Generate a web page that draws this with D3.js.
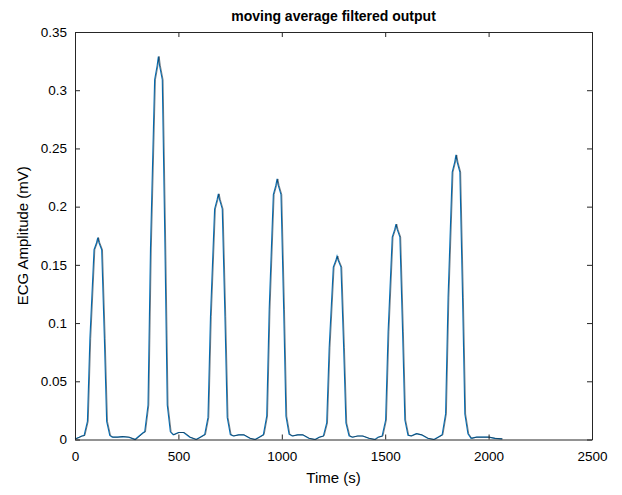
<!DOCTYPE html>
<html>
<head>
<meta charset="utf-8">
<script src="https://cdn.jsdelivr.net/npm/d3@7"></script>
<style>
  body { margin: 0; background: #fff; }
  text { font-family: "Liberation Sans", Arial, sans-serif; fill: #000; }
</style>
</head>
<body>
<div id="chart"></div>
<script>
const WIDTH = 622;
const HEIGHT = 495;
const MARGIN = { top: 32, right: 30, bottom: 55.5, left: 75 };

const X_TICKS = [0, 500, 1000, 1500, 2000, 2500];
const Y_TICKS = [0, 0.05, 0.1, 0.15, 0.2, 0.25, 0.3, 0.35];

// sample time and moving average output
const sampleTime = [
    0, 20, 32,
    44, 60, 72, 92, 104, 110, 116, 129, 142, 153, 168,
    180, 205, 230, 260, 290, 310, 330,
    337, 353, 365, 385, 397, 403, 409, 422, 435, 446, 461,
    475, 500, 525, 555, 585, 605, 625,
    627, 643, 655, 675, 687, 693, 699, 712, 725, 736, 751,
    765, 790, 815, 845, 870, 890, 910,
    911, 927, 939, 959, 971, 977, 983, 996, 1009, 1020, 1035,
    1050, 1075, 1100, 1130, 1160, 1180, 1200,
    1201, 1217, 1229, 1249, 1261, 1267, 1273, 1286, 1299, 1310, 1325,
    1340, 1365, 1390, 1420, 1450, 1465, 1485,
    1486, 1502, 1514, 1534, 1546, 1552, 1558, 1571, 1584, 1595, 1610,
    1625, 1650, 1675, 1705, 1735, 1755, 1775,
    1776, 1792, 1804, 1824, 1836, 1842, 1848, 1861, 1874, 1885, 1900,
    1915, 1940, 1970, 2000, 2030, 2065
];

const ecgAmp = [
    0.0005, 0.002, 0.003,
    0.0035, 0.0156, 0.0867, 0.163, 0.169, 0.1734, 0.169, 0.163, 0.0867, 0.0156, 0.0035,
    0.002, 0.002, 0.0025, 0.002, 0.0, 0.003, 0.006,
    0.0066, 0.0296, 0.1645, 0.309, 0.321, 0.329, 0.321, 0.309, 0.1645, 0.0296, 0.0066,
    0.004, 0.006, 0.006, 0.002, 0.0, 0.002, 0.004,
    0.0042, 0.019, 0.1055, 0.198, 0.206, 0.211, 0.206, 0.198, 0.1055, 0.019, 0.0042,
    0.003, 0.004, 0.004, 0.001, 0.0, 0.002, 0.004,
    0.0045, 0.0201, 0.1119, 0.2104, 0.2182, 0.2238, 0.2182, 0.2104, 0.1119, 0.0201, 0.0045,
    0.003, 0.004, 0.004, 0.001, 0.0, 0.002, 0.003,
    0.0032, 0.0142, 0.0788, 0.1481, 0.1537, 0.1576, 0.1537, 0.1481, 0.0788, 0.0142, 0.0032,
    0.002, 0.003, 0.003, 0.001, 0.0, 0.002, 0.003,
    0.0037, 0.0167, 0.0925, 0.1739, 0.1804, 0.185, 0.1804, 0.1739, 0.0925, 0.0167, 0.0037,
    0.003, 0.005, 0.004, 0.001, 0.0, 0.002, 0.004,
    0.0049, 0.022, 0.1222, 0.2297, 0.2383, 0.2444, 0.2383, 0.2297, 0.1222, 0.022, 0.0049,
    0.001, 0.002, 0.002, 0.002, 0.001, 0.0005
];

var points = sampleTime.map((t, i) => ({ t: t, v: ecgAmp[i] }));

var svg = d3.select("#chart")
    .append("svg")
    .attr("width", WIDTH)
    .attr("height", HEIGHT);

var x_scale = d3.scaleLinear()
    .domain([0, 2500])
    .range([MARGIN.left, WIDTH - MARGIN.right]);

var y_scale = d3.scaleLinear()
    .domain([0, 0.35])
    .range([HEIGHT - MARGIN.bottom, MARGIN.top]);

var line = d3.line()
    .x((d) => x_scale(d.t))
    .y((d) => y_scale(d.v));

// blue trace, then the dark one on top a touch to the right
svg.append("path")
    .datum(points)
    .attr("fill", "none")
    .attr("stroke", "#0072BD")
    .attr("stroke-width", 1.1)
    .attr("d", line);

svg.append("path")
    .datum(points)
    .attr("fill", "none")
    .attr("stroke", "#1b2a36")
    .attr("stroke-width", 0.7)
    .attr("stroke-opacity", 0.85)
    .attr("transform", "translate(0.8,0)")
    .attr("d", line);

// axes with inward ticks, mirrored on top and right
var x0 = MARGIN.left, x1 = WIDTH - MARGIN.right;
var y0 = HEIGHT - MARGIN.bottom, y1 = MARGIN.top;

var xAxis = d3.axisBottom(x_scale).tickValues(X_TICKS).tickSizeInner(-5).tickSizeOuter(0).tickPadding(12)
    .tickFormat(d3.format("d"));
var yAxis = d3.axisLeft(y_scale).tickValues(Y_TICKS).tickSizeInner(-5).tickSizeOuter(0).tickPadding(8)
    .tickFormat((d) => d === 0 ? "0" : String(+d.toFixed(2)));

svg.append("g")
    .attr("transform", "translate(0," + y0 + ")")
    .call(xAxis);
svg.append("g")
    .attr("transform", "translate(" + x0 + ",0)")
    .call(yAxis);

svg.append("g")
    .attr("transform", "translate(0," + y1 + ")")
    .call(d3.axisTop(x_scale).tickValues(X_TICKS).tickSizeInner(-5).tickSizeOuter(0).tickFormat(""));
svg.append("g")
    .attr("transform", "translate(" + x1 + ",0)")
    .call(d3.axisRight(y_scale).tickValues(Y_TICKS).tickSizeInner(-5).tickSizeOuter(0).tickFormat(""));

svg.selectAll(".domain").attr("stroke", "#262626");
svg.selectAll(".tick line").attr("stroke", "#262626");
svg.selectAll(".tick text")
    .style("font-family", "'Liberation Sans', Arial, sans-serif")
    .style("font-size", "13.5px")
    .attr("fill", "#000");

// labels
svg.append("text")
    .attr("x", (x0 + x1) / 2)
    .attr("y", 21)
    .attr("text-anchor", "middle")
    .style("font-size", "14px")
    .style("font-weight", "bold")
    .text("moving average filtered output");

svg.append("text")
    .attr("x", (x0 + x1) / 2)
    .attr("y", 483)
    .attr("text-anchor", "middle")
    .style("font-size", "15px")
    .text("Time (s)");

svg.append("text")
    .attr("transform", "translate(28," + ((y0 + y1) / 2) + ") rotate(-90)")
    .attr("text-anchor", "middle")
    .style("font-size", "15px")
    .text("ECG Amplitude (mV)");
</script>
</body>
</html>
